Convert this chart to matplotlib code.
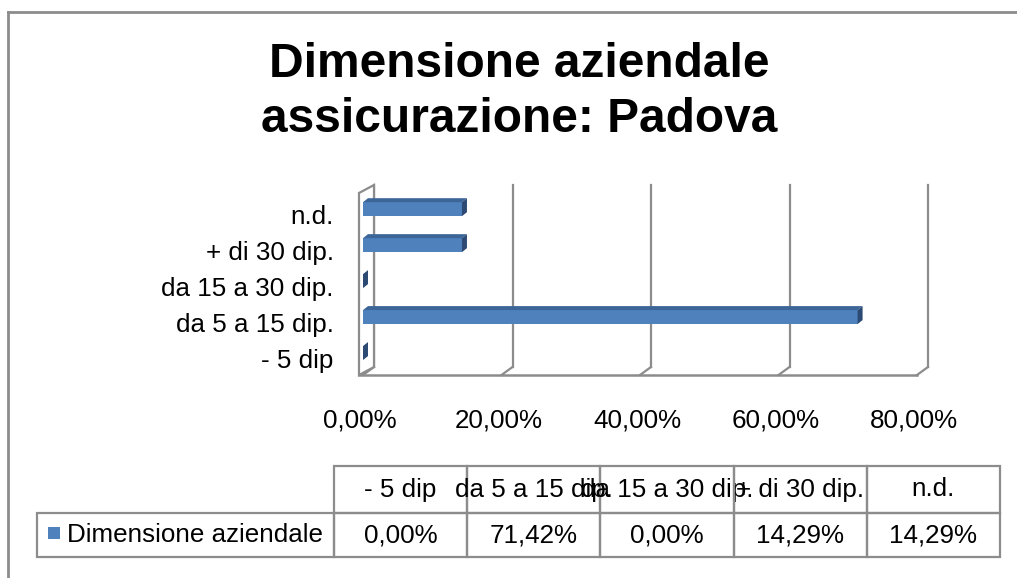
import numpy as np
import matplotlib
matplotlib.use('Agg')
import matplotlib.pyplot as plt
from matplotlib.table import Table
from matplotlib.lines import Line2D
from matplotlib.patches import Rectangle
from matplotlib.transforms import ScaledTranslation

plt.rcParams['font.family'] = ['Liberation Sans', 'DejaVu Sans']

# data (bottom to top, as in the chart)
categories = ['- 5 dip', 'da 5 a 15 dip.', 'da 15 a 30 dip.', '+ di 30 dip.', 'n.d.']
values = [0.00, 71.42, 0.00, 14.29, 14.29]
series_name = 'Dimensione aziendale'
x_ticks = [0, 20, 40, 60, 80]
title = 'Dimensione aziendale\nassicurazione: Padova'

BLUE = '#4F81BD'
BLUE_TOP = '#3D6698'
BLUE_SIDE = '#2C4A74'
GRID = '#8C8C8C'

W, H = 1017, 578


def pct(v):
    return f'{v:.2f}%'.replace('.', ',')


def fx(px):
    return px / W


def fy(py):
    return 1 - py / H


fig = plt.figure(figsize=(W / 100, H / 100), dpi=100)

# outer chart border (top and left only visible)
fig.add_artist(Line2D([fx(8), fx(8)], [0, fy(12)], transform=fig.transFigure, color=GRID, lw=2))
fig.add_artist(Line2D([fx(8), 1], [fy(12), fy(12)], transform=fig.transFigure, color=GRID, lw=2))

fig.text(fx(519), fy(92), title, ha='center', va='center', fontsize=34.5,
         fontweight='bold', linespacing=1.27)

# main plot (front plane of the 3d box)
ax_l, ax_r, ax_t, ax_b = 363, 917, 193, 375
ax = fig.add_axes([fx(ax_l), fy(ax_b), (ax_r - ax_l) / W, (ax_b - ax_t) / H])
ylo, yhi = -0.61, 4.45
ax.set_xlim(0, 80)
ax.set_ylim(ylo, yhi)
sx = (ax_r - ax_l) / 80.0
sy = (ax_b - ax_t) / (yhi - ylo)

# depth of the box and of the bars, in data units
dx, dy = 11 / sx, 8 / sy
bdx, bdy = 5 / sx, 4 / sy
wall_t = 4 / sx

# back wall gridlines + floor lines
for t in x_ticks:
    ax.plot([t + dx, t + dx], [ylo + dy, yhi + dy], color=GRID, lw=1.6, clip_on=False, zorder=1)
    ax.plot([t, t + dx], [ylo, ylo + dy], color=GRID, lw=1.6, clip_on=False, zorder=1)
# left wall
ax.fill([-wall_t, -wall_t, dx, dx], [ylo, yhi, yhi + dy, ylo + dy],
        facecolor='white', edgecolor=GRID, lw=1.6, clip_on=False, zorder=1.5)
# floor front edge
ax.plot([-wall_t, 80], [ylo, ylo], color=GRID, lw=1.8, clip_on=False, zorder=1.6)

# bars with top and side faces
ypos = np.arange(len(categories))
bh = 14 / sy
ax.barh(ypos, values, height=bh, color=BLUE, zorder=3)
for y, v in zip(ypos, values):
    top = y + bh / 2
    bot = y - bh / 2
    ax.fill([0, v, v + bdx, bdx], [top, top, top + bdy, top + bdy],
            color=BLUE_TOP, lw=0, zorder=3, clip_on=False)
    ax.fill([v, v + bdx, v + bdx, v], [bot, bot + bdy, top + bdy, top],
            color=BLUE_SIDE, lw=0, zorder=3, clip_on=False)

for s in ax.spines.values():
    s.set_visible(False)
ax.set_facecolor('none')

ax.set_yticks(ypos, labels=categories, fontsize=18.7)
ax.tick_params(axis='y', length=0, pad=21)
for lab in ax.get_yticklabels():
    lab.set_transform(lab.get_transform() + ScaledTranslation(0, -5 / 100, fig.dpi_scale_trans))

ax.set_xticks(x_ticks, labels=[pct(t) for t in x_ticks], fontsize=18.7)
ax.tick_params(axis='x', length=0, pad=24)
for lab in ax.get_xticklabels():
    lab.set_transform(lab.get_transform() + ScaledTranslation(-3 / 100, 0, fig.dpi_scale_trans))

# data table underneath: column 0 holds the legend key, 1..5 the categories
tax = fig.add_axes([0, 0, 1, 1])
tax.axis('off')
t_l, t_r, t_t, t_b = 37, 1000, 466, 557
leg_w = 297
col_w = (t_r - t_l - leg_w) / len(categories)
head_h, row_h = 47, 44
tbl = Table(tax, bbox=[fx(t_l), fy(t_b), (t_r - t_l) / W, (t_b - t_t) / H])
for j, cat in enumerate(categories):
    tbl.add_cell(0, j + 1, width=col_w, height=head_h, text=cat, loc='center')
tbl.add_cell(1, 0, width=leg_w, height=row_h, text=series_name, loc='left')
for j, v in enumerate(values):
    tbl.add_cell(1, j + 1, width=col_w, height=row_h, text=pct(v), loc='center')
tbl.auto_set_font_size(False)
tbl.set_fontsize(18.7)
for cell in tbl.get_celld().values():
    cell.set_edgecolor(GRID)
    cell.set_linewidth(1.6)
    cell.set_facecolor('none')
tax.add_table(tbl)

# legend key in the table
fig.add_artist(Rectangle((fx(48), fy(539)), 12 / W, 12 / H, transform=fig.transFigure,
                         facecolor=BLUE, edgecolor='none'))

fig.savefig('out.png', dpi=100)
